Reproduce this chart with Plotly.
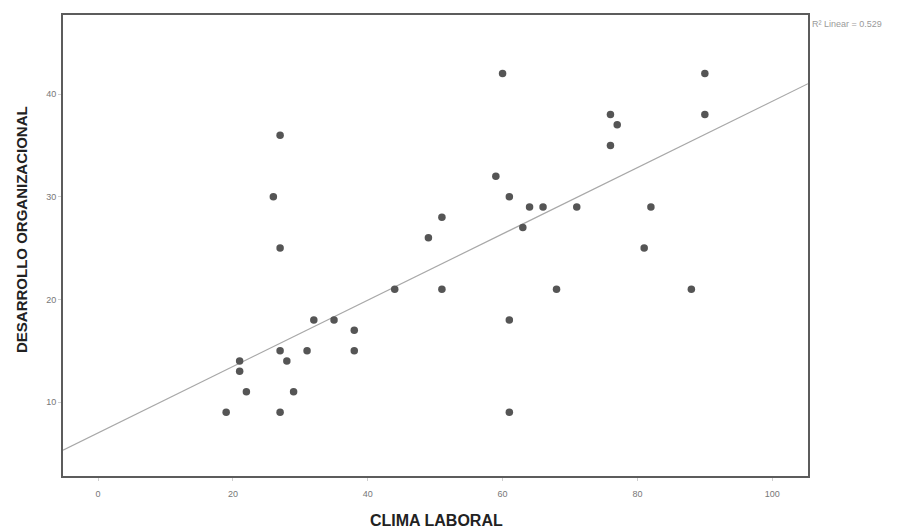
import numpy as np
import plotly.graph_objects as go

clima = [19, 21, 21, 22, 27, 26, 27, 27, 28, 29, 27, 31, 32, 35, 38, 38, 44, 49, 51, 51,
         60, 90, 76, 77, 76, 90, 59, 61, 64, 66, 71, 82, 63, 81, 68, 88, 61, 61]
desarrollo = [9, 14, 13, 11, 36, 30, 25, 15, 14, 11, 9, 15, 18, 18, 17, 15, 21, 26, 28, 21,
              42, 42, 38, 37, 35, 38, 32, 30, 29, 29, 29, 29, 27, 25, 21, 21, 18, 9]

# Linear fit as shown in the reference
fit_intercept = 7.0
fit_slope = 0.323

x_title = "CLIMA LABORAL"
y_title = "DESARROLLO ORGANIZACIONAL"
r2_label = "R² Linear = 0.529"
x_ticks = [0, 20, 40, 60, 80, 100]
y_ticks = [10, 20, 30, 40]

x_range = [-5.2, 105.3]
y_range = [2.8, 47.7]

line_x = np.array(x_range)
line_y = fit_slope * line_x + fit_intercept

fig = go.Figure()
fig.add_trace(go.Scatter(x=line_x, y=line_y, mode="lines",
                         line=dict(color="#a8a8a8", width=1.2), hoverinfo="skip",
                         showlegend=False))
fig.add_trace(go.Scatter(x=clima, y=desarrollo, mode="markers",
                         marker=dict(color="#555555", size=7.5, line=dict(width=0)),
                         showlegend=False))

fig.update_layout(
    width=897, height=528,
    margin=dict(l=63, r=89, t=15, b=52),
    paper_bgcolor="white", plot_bgcolor="white",
    font=dict(family="Liberation Sans, Arial, sans-serif"),
)
fig.update_xaxes(range=x_range, tickvals=x_ticks,
                 showgrid=False, zeroline=False,
                 showline=True, mirror=True, linecolor="#5c5c5c", linewidth=2,
                 ticks="outside", ticklen=3, tickcolor="#cfcfcf",
                 ticklabelstandoff=5,
                 tickfont=dict(size=9, color="#777777"))
fig.update_yaxes(range=y_range, tickvals=y_ticks,
                 showgrid=False, zeroline=False,
                 showline=True, mirror=True, linecolor="#5c5c5c", linewidth=2,
                 ticks="outside", ticklen=3, tickcolor="#cfcfcf",
                 tickfont=dict(size=9, color="#777777"))
fig.add_annotation(text="<b>" + x_title + "</b>", xref="paper", yref="paper",
                   x=(436 - 63) / 745, y=-(520 - 476) / 461, xanchor="center", yanchor="middle",
                   showarrow=False, font=dict(size=16, color="#222222"))
fig.add_annotation(text="<b>" + y_title + "</b>", xref="paper", yref="paper",
                   x=-(63 - 21) / 745, y=(476 - 230) / 461, xanchor="center", yanchor="middle",
                   textangle=-90, showarrow=False, font=dict(size=15, color="#222222"))
fig.add_annotation(text=r2_label, xref="paper", yref="paper", x=1.0, y=(476 - 24) / 461,
                   xanchor="left", yanchor="middle", xshift=2, showarrow=False,
                   font=dict(size=9, color="#9a9a9a"))

fig.write_html("out.html")
